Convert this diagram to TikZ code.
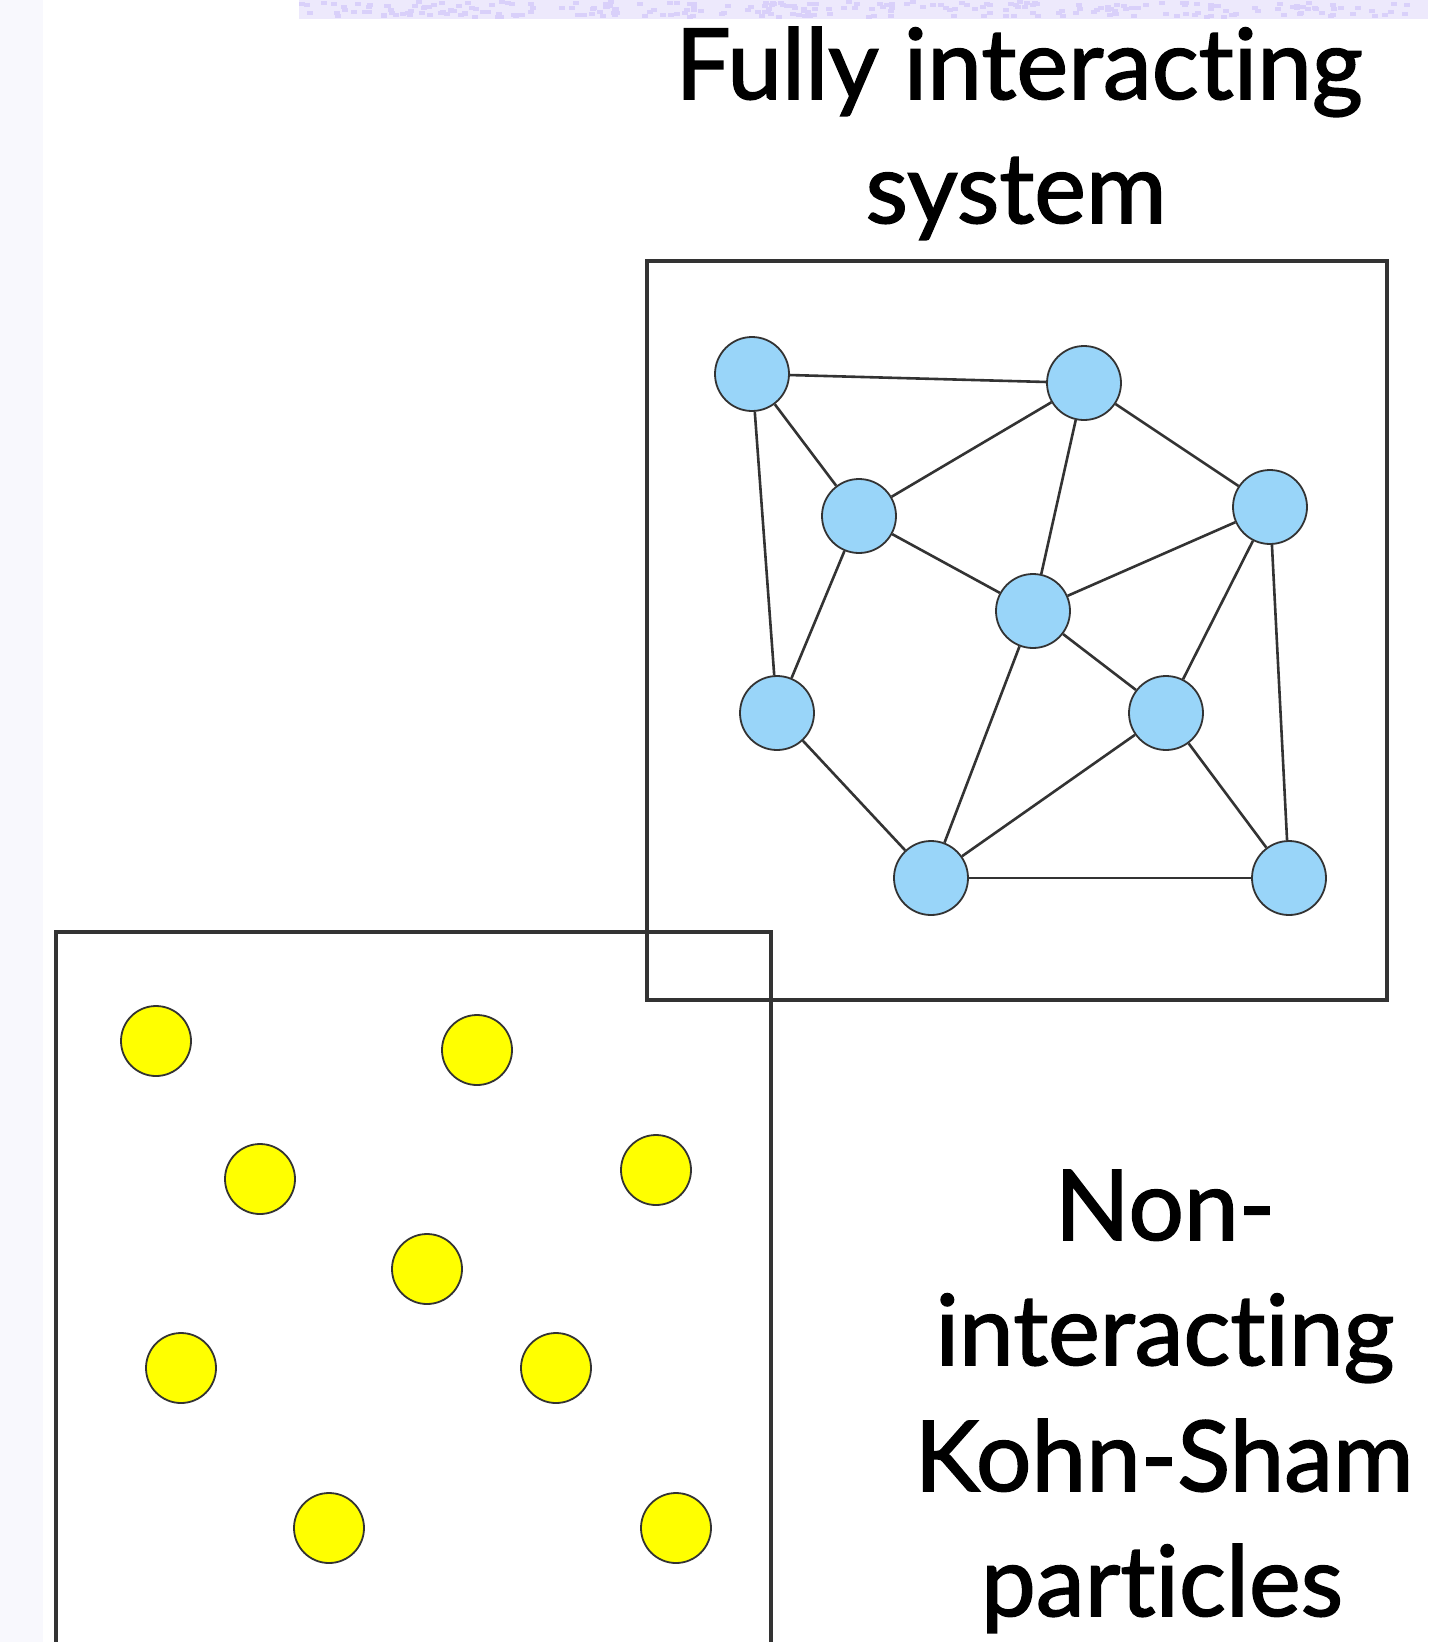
\documentclass[tikz,border=0pt]{standalone}
\usepackage{fontspec}
\setmainfont{Lato}
\newfontfamily\lblfont{Lato}[FakeBold=1.6, Ligatures=NoCommon]
\definecolor{bluefill}{HTML}{99D5F9}
\definecolor{yelfill}{HTML}{FFFF00}
\definecolor{stripe}{HTML}{EDE9FC}
\definecolor{speck}{HTML}{D9D0FA}
\definecolor{leftfade}{HTML}{F8F8FD}
\definecolor{linegray}{HTML}{333333}
\begin{document}
\begin{tikzpicture}[x=1pt,y=-1pt,
  box/.style={draw=linegray, line width=3.2pt},
  bnode/.style={circle, draw=linegray, line width=1.8pt, fill=bluefill, minimum size=74pt, inner sep=0pt},
  ynode/.style={circle, draw=linegray, line width=1.8pt, fill=yelfill, minimum size=70pt, inner sep=0pt},
  link/.style={draw=linegray, line width=2.6pt},
  lbl/.style={font=\lblfont\fontsize{98}{120}\selectfont, anchor=base, inner sep=0pt}]
\useasboundingbox (0,0) rectangle (1428,1642);
\clip (0,0) rectangle (1428,1642);
\fill[white] (0,0) rectangle (1428,1642);
\fill[leftfade] (0,0) rectangle (43,1642);
\fill[stripe] (299,0) rectangle (1428,19);
\pgfmathsetseed{7}
\foreach \i in {1,...,260}{
  \pgfmathsetmacro{\sx}{299+rnd*1120}
  \pgfmathsetmacro{\sy}{rnd*15}
  \fill[speck] (\sx,\sy) rectangle ++(6,4);
}
% boxes
\draw[box] (647,261) rectangle (1387,1000);
\draw[box] (56,932) rectangle (771,1700);
% blue nodes
\node[bnode] (b1) at (752,374) {};
\node[bnode] (b2) at (1084,383) {};
\node[bnode] (b3) at (859,516) {};
\node[bnode] (b4) at (1270,507) {};
\node[bnode] (b5) at (1033,611) {};
\node[bnode] (b6) at (777,713) {};
\node[bnode] (b7) at (1166,713) {};
\node[bnode] (b8) at (931,878) {};
\node[bnode] (b9) at (1289,878) {};
\foreach \a/\b in {b1/b2,b1/b3,b1/b6,b2/b3,b2/b5,b2/b4,b3/b5,b3/b6,b4/b5,b4/b7,b4/b9,b5/b7,b5/b8,b6/b8,b7/b8,b7/b9,b8/b9}
  \draw[link] (\a) -- (\b);
% yellow nodes
\node[ynode] (y1) at (156,1041) {};
\node[ynode] (y2) at (477,1050) {};
\node[ynode] (y3) at (260,1179) {};
\node[ynode] (y4) at (656,1170) {};
\node[ynode] (y5) at (427,1269) {};
\node[ynode] (y6) at (181,1368) {};
\node[ynode] (y7) at (556,1368) {};
\node[ynode] (y8) at (329,1528) {};
\node[ynode] (y9) at (676,1528) {};
% labels
\node[lbl] (t1) at (1019,99) {Fully interacting};
\node[lbl] (t2) at (1016,223) {system};
\node[lbl] (k1) at (1165,1240) {Non-};
\node[lbl] (k2) at (1165,1365) {interacting};
\node[lbl] (k3) at (1164,1491) {Kohn-Sham};
\node[lbl] (k4) at (1162,1616) {particles};
\end{tikzpicture}
\end{document}
